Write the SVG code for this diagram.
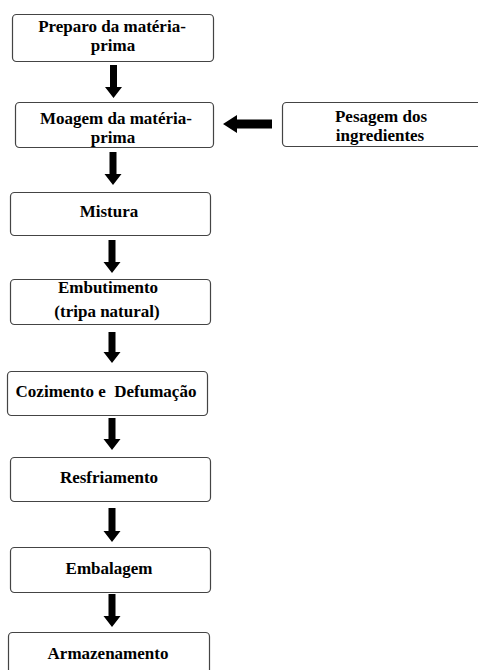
<svg xmlns="http://www.w3.org/2000/svg" width="478" height="670" viewBox="0 0 478 670">
<style>
.box{fill:#fff;stroke:#444;stroke-width:1.2}
.t{font-family:'Liberation Serif','Times New Roman',Times,serif;font-weight:bold;font-size:17px;fill:#000;text-anchor:middle}
.arr{fill:#000}
</style>
<rect width="478" height="670" fill="#fff"/>
<g id="n1"><rect class="box" x="12.5" y="14.5" width="201" height="47" rx="4"/><text class="t" x="112" y="32">Preparo da matéria-</text><text class="t" x="113" y="51">prima</text></g>
<g id="n2"><rect class="box" x="15.5" y="102.5" width="198" height="45" rx="4"/><text class="t" x="116" y="124">Moagem da matéria-</text><text class="t" x="113" y="143">prima</text></g>
<g id="n9"><rect class="box" x="282.5" y="102.5" width="200" height="44" rx="4"/><text class="t" x="381" y="122">Pesagem dos</text><text class="t" x="380" y="141">ingredientes</text></g>
<g id="n3"><rect class="box" x="10.5" y="192.5" width="200" height="43" rx="4"/><text class="t" x="109" y="217">Mistura</text></g>
<g id="n4"><rect class="box" x="10.5" y="279.5" width="200" height="45" rx="4"/><text class="t" x="108" y="293">Embutimento</text><text class="t" x="107" y="317">(tripa natural)</text></g>
<g id="n5"><rect class="box" x="7.5" y="371.5" width="200" height="44" rx="4"/><text class="t" x="106" y="397" xml:space="preserve">Cozimento e  Defumação</text></g>
<g id="n6"><rect class="box" x="10.5" y="457.5" width="200" height="44" rx="4"/><text class="t" x="109" y="483">Resfriamento</text></g>
<g id="n7"><rect class="box" x="10.5" y="547.5" width="200" height="45" rx="4"/><text class="t" x="109" y="574">Embalagem</text></g>
<g id="n8"><rect class="box" x="8.5" y="632.5" width="201" height="48" rx="4"/><text class="t" x="108" y="659">Armazenamento</text></g>
<g id="connectors">
<polygon class="arr" points="110,65 117,65 117,87 122,87 113.5,98 105,87 110,87"/>
<polygon class="arr" points="109.5,152 116.5,152 116.5,174 121.5,174 113,185 104.5,174 109.5,174"/>
<polygon class="arr" points="108.5,240 115.5,240 115.5,262 120.5,262 112,273 103.5,262 108.5,262"/>
<polygon class="arr" points="108.5,332 115.5,332 115.5,352 120.5,352 112,363 103.5,352 108.5,352"/>
<polygon class="arr" points="108.5,418 115.5,418 115.5,439 120.5,439 112,450 103.5,439 108.5,439"/>
<polygon class="arr" points="108.5,508 115.5,508 115.5,531 120.5,531 112,542 103.5,531 108.5,531"/>
<polygon class="arr" points="108.5,594 115.5,594 115.5,616 120.5,616 112,627 103.5,616 108.5,616"/>
<polygon class="arr" points="272,119.5 272,128.5 237,128.5 237,133 223,124 237,115 237,119.5"/>
</g>
</svg>
